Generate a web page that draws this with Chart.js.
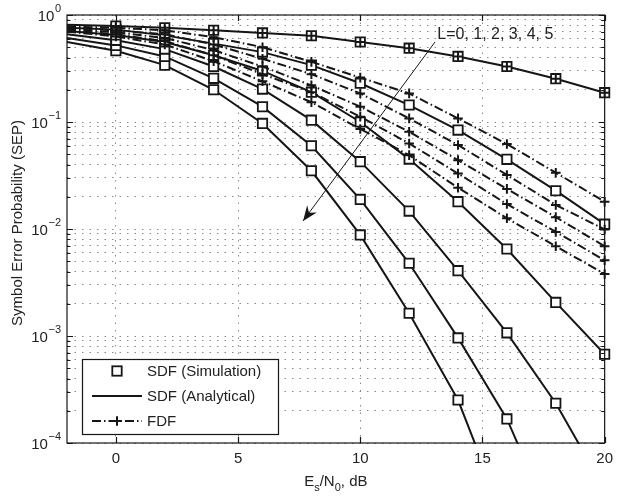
<!DOCTYPE html>
<html>
<head>
<meta charset="utf-8">
<script src="https://cdn.jsdelivr.net/npm/chart.js@4.4.1/dist/chart.umd.min.js"></script>
<style>
  html, body { margin: 0; padding: 0; background: #fff; }
  canvas { display: block; }
</style>
</head>
<body>
<canvas id="sepChart" width="620" height="496"></canvas>
<script>
// Es/N0 grid (dB) shared by every curve
const snrDb = [-2, 0, 2, 4, 6, 8, 10, 12, 14, 16, 18, 20];
const xTicks = [0, 5, 10, 15, 20];
const yDecades = [1, 1e-1, 1e-2, 1e-3, 1e-4];
const yExponents = ['0', '\u22121', '\u22122', '\u22123', '\u22124'];

// SDF, analytical SEP for L = 0..5 (simulated points lie on these curves)
const sdfL0 = [0.81, 0.79, 0.76, 0.72, 0.68, 0.64, 0.56, 0.49, 0.41, 0.33, 0.254, 0.188];
const sdfL1 = [0.76, 0.73, 0.645, 0.54, 0.45, 0.34, 0.23, 0.144, 0.084, 0.0448, 0.0228, 0.0111];
const sdfL2 = [0.71, 0.65, 0.56, 0.42, 0.30, 0.19, 0.10, 0.045, 0.018, 0.0065, 0.00206, 0.000675];
const sdfL3 = [0.66, 0.58, 0.48, 0.33, 0.203, 0.104, 0.0426, 0.0147, 0.00408, 0.00107, 0.000235, 0.000037];
const sdfL4 = [0.61, 0.52, 0.41, 0.256, 0.139, 0.060, 0.0189, 0.00478, 0.00096, 0.000168, 0.000015, null];
const sdfL5 = [0.56, 0.464, 0.34, 0.20, 0.097, 0.035, 0.0088, 0.00163, 0.000252, 0.000017, null, null];

// FDF SEP for L = 0..5 (L = 0 coincides with SDF)
const fdfL0 = sdfL0;
const fdfL1 = [0.78, 0.76, 0.72, 0.62, 0.50, 0.365, 0.26, 0.185, 0.108, 0.0623, 0.0336, 0.018];
const fdfL2 = [0.76, 0.72, 0.66, 0.53, 0.39, 0.28, 0.185, 0.108, 0.061, 0.032, 0.0168, 0.0099];
const fdfL3 = [0.74, 0.69, 0.61, 0.47, 0.33, 0.22, 0.139, 0.081, 0.044, 0.0237, 0.0129, 0.0069];
const fdfL4 = [0.72, 0.66, 0.57, 0.42, 0.28, 0.19, 0.112, 0.063, 0.033, 0.0171, 0.0094, 0.0051];
const fdfL5 = [0.70, 0.63, 0.53, 0.37, 0.24, 0.153, 0.086, 0.049, 0.0243, 0.0126, 0.0069, 0.0038];

const sdfCurves = [sdfL0, sdfL1, sdfL2, sdfL3, sdfL4, sdfL5];
const fdfCurves = [fdfL0, fdfL1, fdfL2, fdfL3, fdfL4, fdfL5];

const legendLabels = ['SDF (Simulation)', 'SDF (Analytical)', 'FDF'];
const arrowLabel = 'L=0, 1, 2, 3, 4, 5';

const X_MIN = -2, X_MAX = 20, Y_MIN = 1e-4, Y_MAX = 1;
const INK = '#161616';
const FONT = '"Liberation Sans", Arial, Helvetica, sans-serif';
const DASH_DOT = [9, 3, 1.5, 3];

const toPoints = vals => snrDb.map((x, i) => ({ x, y: vals[i] })).filter(p => p.y != null);
const markerPoints = vals => toPoints(vals).filter(p => p.x >= 0 && p.y >= Y_MIN);

const datasets = [];
sdfCurves.forEach((vals, i) => {
  datasets.push({
    label: 'SDF analytical L=' + i,
    data: toPoints(vals),
    borderColor: INK, borderWidth: 2,
    pointRadius: 0, order: 3, clip: 1
  });
  datasets.push({
    label: 'SDF simulation L=' + i,
    data: markerPoints(vals),
    showLine: false,
    pointStyle: 'rect', pointRadius: 6.6,
    pointBorderColor: INK, pointBorderWidth: 1.8,
    pointBackgroundColor: '#fff',
    order: 2, clip: false
  });
});
fdfCurves.forEach((vals, i) => {
  datasets.push({
    label: 'FDF L=' + i,
    data: toPoints(vals),
    showLine: i > 0,
    borderColor: INK, borderWidth: 2, borderDash: DASH_DOT,
    pointStyle: 'cross',
    pointRadius: ctx => (ctx.raw && ctx.raw.x >= 0 ? 4.8 : 0),
    pointBorderColor: INK, pointBorderWidth: 2,
    order: 1, clip: false
  });
});

// box, inward ticks, log labels, titles, legend and the L arrow
const decorations = {
  id: 'decorations',
  afterDatasetsDraw(chart) {
    const { ctx, chartArea: a, scales: { x, y } } = chart;
    ctx.save();
    ctx.strokeStyle = INK;
    ctx.fillStyle = INK;
    ctx.lineWidth = 1.2;
    ctx.setLineDash([]);
    ctx.strokeRect(a.left, a.top, a.right - a.left, a.bottom - a.top);

    // inward tick marks
    ctx.beginPath();
    y.ticks.forEach(t => {
      const py = Math.round(y.getPixelForValue(t.value)) + 0.5;
      const major = yDecades.some(d => Math.abs(Math.log10(d) - Math.log10(t.value)) < 1e-6);
      const len = major ? 6 : 3.5;
      ctx.moveTo(a.left, py); ctx.lineTo(a.left + len, py);
      ctx.moveTo(a.right, py); ctx.lineTo(a.right - len, py);
    });
    xTicks.forEach(v => {
      const px = Math.round(x.getPixelForValue(v)) + 0.5;
      ctx.moveTo(px, a.bottom); ctx.lineTo(px, a.bottom - 6);
      ctx.moveTo(px, a.top); ctx.lineTo(px, a.top + 6);
    });
    ctx.stroke();

    // y tick labels 10^n
    ctx.fillStyle = '#222';
    ctx.textBaseline = 'middle';
    yDecades.forEach((d, i) => {
      const py = y.getPixelForValue(d);
      ctx.font = '11px ' + FONT;
      const we = ctx.measureText(yExponents[i]).width;
      ctx.textAlign = 'left';
      ctx.fillText(yExponents[i], 61 - we, py - 6);
      ctx.font = '15px ' + FONT;
      ctx.textAlign = 'right';
      ctx.fillText('10', 61 - we - 0.5, py + 2);
    });

    // y title
    ctx.save();
    ctx.translate(18, (a.top + a.bottom) / 2 - 6);
    ctx.rotate(-Math.PI / 2);
    ctx.font = '15px ' + FONT;
    ctx.textAlign = 'center';
    ctx.fillText('Symbol Error Probability (SEP)', 0, 0);
    ctx.restore();

    // x title: E_s/N_0, dB
    const parts = [['E', 0], ['s', 1], ['/N', 0], ['0', 1], [', dB', 0]];
    const fontFor = sub => (sub ? '11px ' : '15px ') + FONT;
    let total = 0;
    parts.forEach(([t, sub]) => { ctx.font = fontFor(sub); total += ctx.measureText(t).width; });
    let tx = (a.left + a.right) / 2 - total / 2;
    ctx.textAlign = 'left';
    parts.forEach(([t, sub]) => {
      ctx.font = fontFor(sub);
      ctx.fillText(t, tx, sub ? 488 : 482);
      tx += ctx.measureText(t).width;
    });

    // legend
    const lg = { left: 82, top: 359, right: 278, bottom: 434 };
    ctx.fillStyle = '#fff';
    ctx.fillRect(lg.left, lg.top, lg.right - lg.left, lg.bottom - lg.top);
    ctx.strokeStyle = INK;
    ctx.lineWidth = 1.2;
    ctx.strokeRect(lg.left + 0.5, lg.top + 0.5, lg.right - lg.left, lg.bottom - lg.top);
    const rows = [371, 396, 421];
    const sx0 = 92, sx1 = 142, sxm = 117;
    ctx.lineWidth = 1.8;
    ctx.strokeRect(sxm - 4.7, rows[0] - 4.7, 9.4, 9.4);
    ctx.lineWidth = 2;
    ctx.beginPath(); ctx.moveTo(sx0, rows[1]); ctx.lineTo(sx1, rows[1]); ctx.stroke();
    ctx.setLineDash(DASH_DOT);
    ctx.beginPath(); ctx.moveTo(sx0, rows[2]); ctx.lineTo(sx1, rows[2]); ctx.stroke();
    ctx.setLineDash([]);
    ctx.beginPath();
    ctx.moveTo(sxm - 4.8, rows[2]); ctx.lineTo(sxm + 4.8, rows[2]);
    ctx.moveTo(sxm, rows[2] - 4.8); ctx.lineTo(sxm, rows[2] + 4.8);
    ctx.stroke();
    ctx.fillStyle = '#222';
    ctx.font = '15px ' + FONT;
    ctx.textBaseline = 'middle';
    legendLabels.forEach((t, i) => ctx.fillText(t, 147, rows[i] + 1));

    // arrow across the family of curves
    const x0 = x.getPixelForValue(13.06), y0 = y.getPixelForValue(0.56);
    const x1 = x.getPixelForValue(7.66), y1 = y.getPixelForValue(0.0119);
    ctx.strokeStyle = INK;
    ctx.lineWidth = 1;
    ctx.beginPath(); ctx.moveTo(x0, y0); ctx.lineTo(x1, y1); ctx.stroke();
    const len = Math.hypot(x1 - x0, y1 - y0);
    const ux = (x1 - x0) / len, uy = (y1 - y0) / len;
    const nx = -uy, ny = ux;
    ctx.fillStyle = INK;
    ctx.beginPath();
    ctx.moveTo(x1, y1);
    ctx.lineTo(x1 - ux * 15 + nx * 6, y1 - uy * 15 + ny * 6);
    ctx.lineTo(x1 - ux * 10, y1 - uy * 10);
    ctx.lineTo(x1 - ux * 15 - nx * 6, y1 - uy * 15 - ny * 6);
    ctx.closePath();
    ctx.fill();
    ctx.fillStyle = '#222';
    ctx.font = '16px ' + FONT;
    ctx.textAlign = 'left';
    ctx.fillText(arrowLabel, x.getPixelForValue(13.15), y.getPixelForValue(0.65));
    ctx.restore();
  }
};

new Chart(document.getElementById('sepChart'), {
  type: 'line',
  data: { datasets },
  plugins: [decorations],
  options: {
    responsive: false,
    animation: false,
    devicePixelRatio: 1,
    layout: { padding: { left: 67, right: 11, top: 15, bottom: 0 } },
    plugins: { legend: { display: false }, tooltip: { enabled: false } },
    scales: {
      x: {
        type: 'linear', min: X_MIN, max: X_MAX,
        afterBuildTicks: axis => { axis.ticks = xTicks.map(v => ({ value: v })); },
        afterFit: axis => { axis.height = 53; },
        grid: { color: '#8a8a8a', lineWidth: 1, drawTicks: false },
        border: { display: false, dash: [1.5, 6] },
        ticks: { padding: 7, color: '#222', font: { family: FONT, size: 15 } }
      },
      y: {
        type: 'logarithmic', min: Y_MIN, max: Y_MAX,
        afterBuildTicks: axis => {
          const t = [];
          for (let e = -4; e <= 0; e++) {
            for (let m = 1; m <= 9; m++) {
              const v = m * Math.pow(10, e);
              if (v <= Y_MAX * 1.0001) t.push({ value: v });
            }
          }
          axis.ticks = t;
        },
        afterFit: axis => { axis.width = 0; },
        grid: { color: '#8a8a8a', lineWidth: 1, drawTicks: false },
        border: { display: false, dash: [1.5, 6] },
        ticks: { display: false }
      }
    }
  }
});
</script>
</body>
</html>
